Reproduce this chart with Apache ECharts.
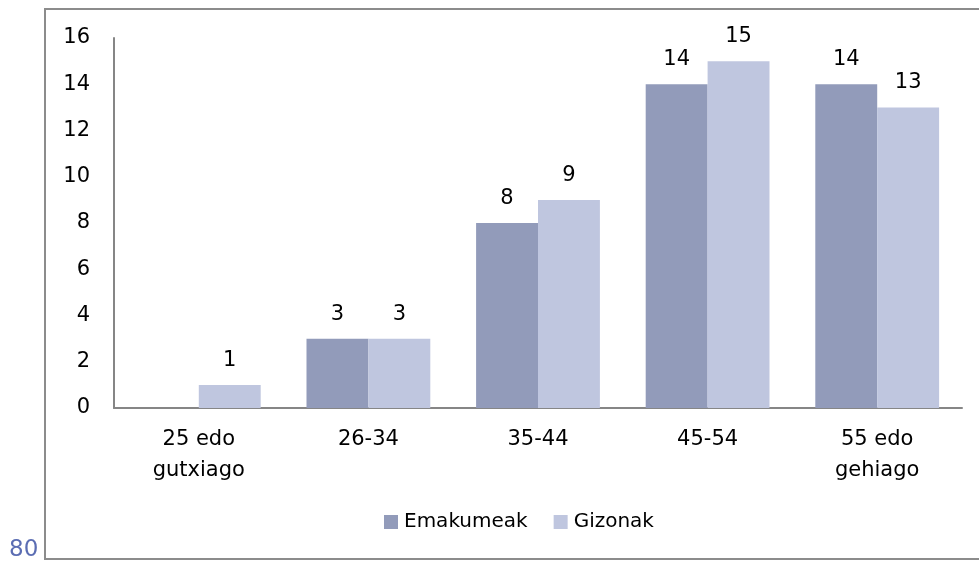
<!DOCTYPE html>
<html>
<head>
<meta charset="utf-8">
<script src="https://cdn.jsdelivr.net/npm/echarts@6/dist/echarts.min.js"></script>
<style>
  html, body { margin: 0; padding: 0; background: #fff; }
  #chart { width: 979px; height: 563px; }
</style>
</head>
<body>
<div id="chart"></div>
<script>
// datuak
const categories = ['25 edo\ngutxiago', '26-34', '35-44', '45-54', '55 edo\ngehiago'];
const emakumeak  = [0, 3, 8, 14, 14];
const gizonak    = [1, 3, 9, 15, 13];
const yTicks     = [0, 2, 4, 6, 8, 10, 12, 14, 16];

const FONT = 'DejaVu Sans';
const COLORS = { Emakumeak: '#929bba', Gizonak: '#bfc6df' };

const chart = echarts.init(document.getElementById('chart'), null, { renderer: 'canvas' });

const barLabel = {
  show: true,
  position: 'top',
  distance: 14,
  color: '#000',
  fontFamily: FONT,
  fontSize: 21,
  formatter: p => (p.value ? String(p.value) : '')
};

const option = {
  animation: false,
  textStyle: { fontFamily: FONT },
  grid: { left: 114, right: 17, top: 38, bottom: 155 },
  legend: {
    left: 379,
    top: 507,
    itemWidth: 14,
    itemHeight: 14,
    itemGap: 26,
    icon: 'rect',
    textStyle: { fontFamily: FONT, fontSize: 20, color: '#000', padding: [0, 0, 0, 1] },
    data: ['Emakumeak', 'Gizonak']
  },
  xAxis: {
    type: 'category',
    data: categories,
    axisLine: { lineStyle: { color: '#868686', width: 2 } },
    axisTick: { show: false },
    axisLabel: {
      interval: 0,
      margin: 16,
      color: '#000',
      fontFamily: FONT,
      fontSize: 21,
      lineHeight: 31
    }
  },
  yAxis: {
    type: 'value',
    min: yTicks[0],
    max: yTicks[yTicks.length - 1],
    interval: 2,
    axisLine: { show: true, lineStyle: { color: '#868686', width: 2 } },
    axisTick: { show: false },
    splitLine: { show: false },
    axisLabel: { margin: 24, color: '#000', fontFamily: FONT, fontSize: 21 }
  },
  series: [
    {
      name: 'Emakumeak',
      type: 'bar',
      data: emakumeak,
      barGap: '0%',
      barCategoryGap: '27%',
      itemStyle: { color: COLORS.Emakumeak },
      label: barLabel
    },
    {
      name: 'Gizonak',
      type: 'bar',
      data: gizonak,
      barGap: '0%',
      barCategoryGap: '27%',
      itemStyle: { color: COLORS.Gizonak },
      label: barLabel
    }
  ],
  graphic: [
    {
      type: 'rect',
      silent: true,
      shape: { x: 45, y: 9, width: 960, height: 550 },
      style: { fill: 'none', stroke: '#8c8c8c', lineWidth: 2 },
      z: -1
    },
    {
      type: 'text',
      left: 9,
      top: 539,
      style: { text: '80', fill: '#5b6db3', fontFamily: FONT, fontSize: 23 }
    }
  ]
};

chart.setOption(option);
</script>
</body>
</html>
